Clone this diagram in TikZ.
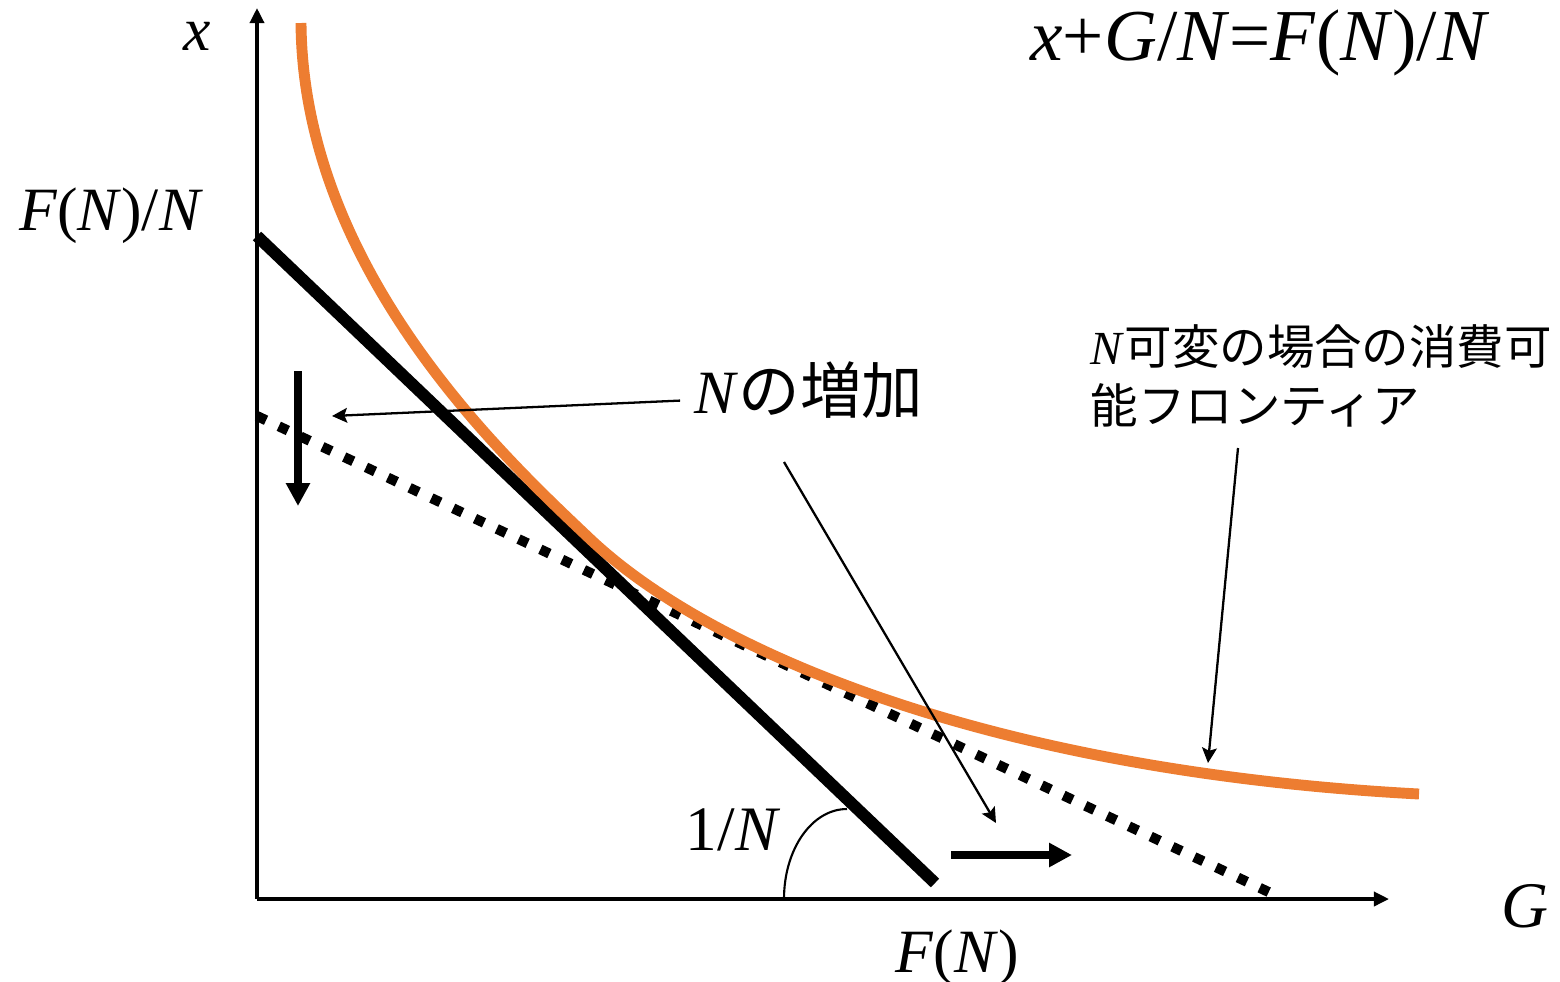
\documentclass[tikz,border=0pt]{standalone}
\usepackage{fontspec}
\setmainfont{Liberation Serif}
\newfontfamily\jpfont{Noto Sans CJK JP}
\usepackage{xcolor}
\usepackage{tikz}
\usetikzlibrary{arrows.meta, positioning, calc}
\definecolor{frontorange}{HTML}{ED7D31}
\tikzset{
    axis/.style={line width=1pt, -{Triangle[length=4.3pt, width=4pt]}},
    budget/.style={line width=3.4pt},
    newbudget/.style={line width=2.85pt, dash pattern=on 2.85pt off 4pt},
    frontier/.style={frontorange, line width=3.1pt},
    pointer/.style={line width=0.65pt, -{Stealth[length=4.3pt, width=4.2pt, inset=0.8pt]}},
    shiftarrow/.style={line width=2.5pt, -{Triangle[length=6.5pt, width=6.5pt]}},
    lab/.style={inner sep=0pt, anchor=base, font=\fontsize{17.5pt}{21pt}\selectfont}
}

\begin{document}
\begin{tikzpicture}[x=0.01cm, y=-0.01cm]
    \useasboundingbox (0,0) rectangle (1560,981);

    % Assi
    \coordinate (O) at (257,899);
    \draw[axis] (O) -- (1389,899) coordinate (xEnd);
    \draw[axis] (O) -- (257,8) coordinate (yEnd);
    \node[lab] (xlab) at (197,50) {\textit{x}};
    \node[lab, font=\fontsize{18.5pt}{22pt}\selectfont] (Glab) at (1525,927) {\textit{G}};
    \node[lab] (FNN) at (111,230) {\textit{F}(\textit{N})/\textit{N}};
    \node[lab] (FN) at (957,972) {\textit{F}(\textit{N})};
    \node[lab, font=\fontsize{20.8pt}{24pt}\selectfont] (eq) at (1260,60)
        {\textit{x}+\textit{G}/\textit{N}=\textit{F}(\textit{N})/\textit{N}};

    % Vincolo di bilancio (N dato) e nuovo vincolo
    \coordinate (budA) at (257,236);
    \coordinate (budB) at (935,883);
    \draw[budget] (budA) -- (budB);
    \coordinate (newA) at (257,416);
    \coordinate (newB) at (1275,895);
    \draw[newbudget] (newA) -- (newB);

    % Frontiera con N variabile (due tratti di Bezier)
    \coordinate (tang) at (589,538);
    \draw[frontier] (301,23) .. controls (303,273) and (509,462) .. (tang)
        .. controls (709,652) and (989,771) .. (1419,794);

    % Angolo 1/N
    \draw[line width=0.6pt] (784,899) .. controls (784,849) and (812,809) .. (847,809);
    \node[lab, font=\fontsize{18pt}{22pt}\selectfont] (slope) at (733,850) {1/\textit{N}};

    % Spostamenti
    \draw[shiftarrow] (298,371) -- (298,506);
    \draw[shiftarrow] (951,855) -- (1072,855);

    % Etichette con frecce
    \node[lab] (inc) at (809,413) {\textit{N}\jpfont の増加};
    \coordinate (incTip) at (332,416);
    \draw[pointer] ([shift={(-14,11)}]inc.west) -- (incTip);
    \coordinate (incFrom) at (784,462);
    \coordinate (incTip2) at (996,823);
    \draw[pointer] (incFrom) -- (incTip2);

    \node[inner sep=0pt, anchor=base west, align=left,
          font=\fontsize{13.5pt}{16.5pt}\selectfont] (front) at (1090,423)
        {\textit{N}\jpfont 可変の場合の消費可\\\jpfont 能フロンティア};
    \coordinate (frontFrom) at (1238,448);
    \coordinate (frontTip) at (1208,763);
    \draw[pointer] (frontFrom) -- (frontTip);
\end{tikzpicture}
\end{document}
